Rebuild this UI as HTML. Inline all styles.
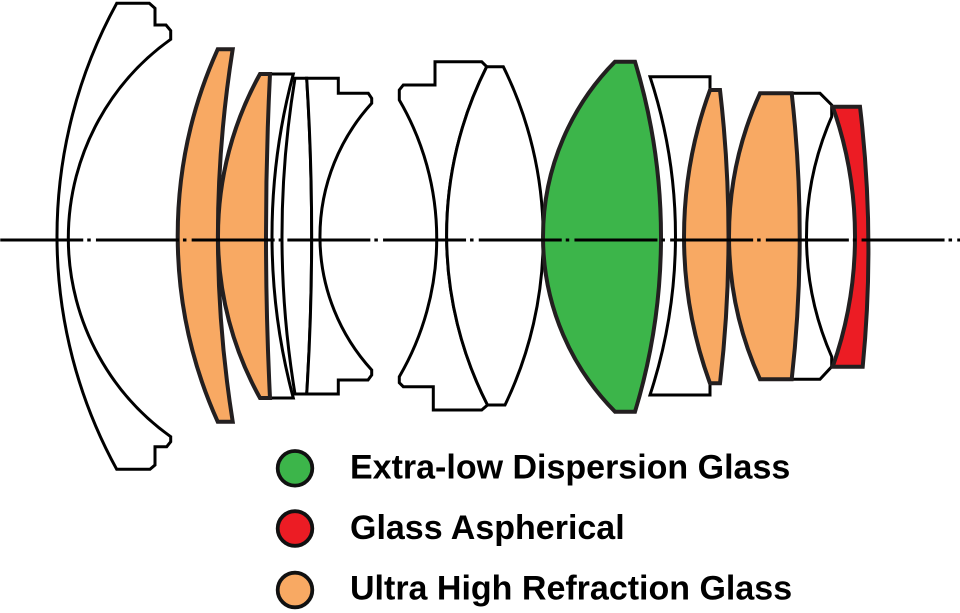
<!DOCTYPE html>
<html>
<head>
<meta charset="utf-8">
<style>
  html, body { margin: 0; padding: 0; background: #ffffff; }
  body { width: 960px; height: 613px; overflow: hidden; }
  svg { display: block; }
  .w { fill: #ffffff; stroke: #000000; stroke-width: 3; stroke-linejoin: miter; }
  .o { fill: #f8a963; stroke: #231f20; stroke-width: 4; stroke-linejoin: miter; }
  .g { fill: #3cb54a; stroke: #231f20; stroke-width: 4; }
  .r { fill: #ec1c24; stroke: #231f20; stroke-width: 4; }
  .lbl { font-family: "Liberation Sans", Arial, sans-serif; font-weight: bold; font-size: 34px; fill: #000; }
</style>
</head>
<body>
<svg width="960" height="613" viewBox="0 0 960 613" xmlns="http://www.w3.org/2000/svg">
  <rect x="0" y="0" width="960" height="613" fill="#ffffff"/>

  <!-- Lens 1: front meniscus -->
  <path class="w" d="M116.7,3.3 L149.3,3.3 L155,8.3 L155,25 L166,25 L170.7,30.7 L170.7,39.3 A244 244 0 0 0 170.7,436.7 L170.7,441.7 L166.7,446.7 L155,446.7 L155,465 L150,469.3 L116.7,469.3 A484.5 484.5 0 0 1 116.7,3.3 Z"/>

  <!-- Lens 2: orange -->
  <path class="o" d="M217.7,49.3 L232.7,49.3 A1186.6 1186.6 0 0 0 232.7,421.7 L217.7,421.7 A453.4 453.4 0 0 1 217.7,49.3 Z"/>

  <!-- Lens 4: white thin meniscus -->
  <path class="w" d="M270,74 L293.3,74 A626.7 626.7 0 0 0 293.3,398 L270,398 A3282 3282 0 0 1 270,74 Z"/>

  <!-- Lens 3: orange -->
  <path class="o" d="M260,74 L270,74 A3282 3282 0 0 0 270,398 L260,398 A333.4 333.4 0 0 1 260,74 Z"/>

  <!-- Lens 5 -->
  <path class="w" d="M295,78.3 L306.7,78.3 A2508 2508 0 0 1 306.7,394 L295,394 A970.3 970.3 0 0 1 295,78.3 Z"/>

  <!-- Lens 6 -->
  <path class="w" d="M306.7,78.3 L338.3,78.3 L338.3,93.3 L368.3,93.3 L371.7,98.3 L371.7,103.3 A197.7 197.7 0 0 0 371.7,370 L371.7,375 L368,380 L338.3,380 L338.3,394 L306.7,394 A2508 2508 0 0 0 306.7,78.3 Z"/>

  <!-- Lens 7 -->
  <path class="w" d="M435,61.7 L481.7,61.7 L486.7,66.7 A373.7 373.7 0 0 0 487.5,405 L481.7,410 L433.3,410 L433.3,386.7 L403.3,386.7 L399.3,382.7 L399.3,376.7 A274.4 274.4 0 0 0 399.3,100 L399.3,90 L403.3,85 L435,85 Z"/>

  <!-- Lens 8 -->
  <path class="w" d="M486.7,66.7 L503.3,66.7 A385.7 385.7 0 0 1 505,405 L487.5,405 A373.7 373.7 0 0 1 486.7,66.7 Z"/>

  <!-- Lens 9: green ED -->
  <path class="g" d="M615,61.7 L635,61.7 A601.9 601.9 0 0 1 635,411.7 L615,411.7 A248.7 248.7 0 0 1 615,61.7 Z"/>

  <!-- Lens 10 -->
  <path class="w" d="M650,76.7 L710,76.7 L710,90 A426.9 426.9 0 0 0 710,383.3 L710,395 L650,395 A509.7 509.7 0 0 0 650,76.7 Z"/>

  <!-- Lens 11: orange -->
  <path class="o" d="M710,90 L720,90 A1270 1270 0 0 1 720,383.3 L710,383.3 A426.9 426.9 0 0 1 710,90 Z"/>

  <!-- Lens 13 -->
  <path class="w" d="M791.7,93.3 L820,93.3 L831.7,105 L831.7,116.7 A298.3 298.3 0 0 0 831.7,356.7 L831.7,366.7 L820,379.3 L791.7,379.3 A1282 1282 0 0 0 791.7,93.3 Z"/>

  <!-- Lens 12: orange -->
  <path class="o" d="M760,93.3 L791.7,93.3 A1282 1282 0 0 1 791.7,379.3 L760,379.3 A345.3 345.3 0 0 1 760,93.3 Z"/>

  <!-- Lens 14: red aspherical -->
  <path class="r" d="M832.7,106.7 L860,106.7 A1210 1210 0 0 1 862.7,366.7 L832.7,366.7 A390 390 0 0 0 832.7,106.7 Z"/>

  <!-- Optical axis (dash-dot) -->
  <line x1="0.25" y1="240" x2="960" y2="240" stroke="#000" stroke-width="2.9" stroke-dasharray="83 4 3.5 5.2"/>

  <!-- Legend -->
  <circle cx="295" cy="468.3" r="17.3" fill="#3cb54a" stroke="#111" stroke-width="3.8"/>
  <circle cx="295" cy="528.5" r="17.3" fill="#ec1c24" stroke="#111" stroke-width="3.8"/>
  <circle cx="295" cy="590" r="17.3" fill="#f8a963" stroke="#111" stroke-width="3.8"/>

  <text class="lbl" x="350" y="478.5">Extra-low Dispersion Glass</text>
  <text class="lbl" x="350" y="539">Glass Aspherical</text>
  <text class="lbl" x="350" y="599.5">Ultra High Refraction Glass</text>
</svg>
</body>
</html>
